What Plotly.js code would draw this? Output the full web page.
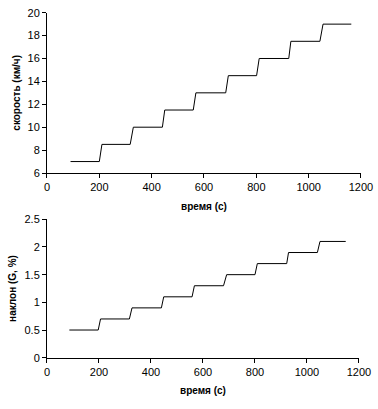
<!DOCTYPE html>
<html><head><meta charset="utf-8">
<script src="https://cdn.plot.ly/plotly-3.0.1.min.js"></script>
<style>html,body{margin:0;padding:0;background:#fff}#c{width:378px;height:409px}</style>
</head><body><div id="c"></div>
<script>
// Top chart: speed steps
const speedTime = [90,200,210,318,330,441,450,559,569,683,693,801,811,924,932,1043,1055,1163];
const speedVals = [7,7,8.5,8.5,10,10,11.5,11.5,13,13,14.5,14.5,16,16,17.5,17.5,19,19];
// Bottom chart: grade steps
const gradeTime = [86,197,206,317,327,440,449,558,567,679,691,800,809,922,929,1040,1050,1149];
const gradeVals = [0.5,0.5,0.7,0.7,0.9,0.9,1.1,1.1,1.3,1.3,1.5,1.5,1.7,1.7,1.9,1.9,2.1,2.1];
const xTitle = "время (с)";
const yTitleTop = "скорость (км/ч)";
const yTitleBottom = "наклон (G, %)";

const F = "Liberation Sans, Arial, sans-serif";
const axBase = {
  showgrid:false, zeroline:false, showline:true, linecolor:"#000", linewidth:1,
  ticks:"outside", ticklen:4, tickcolor:"#000", tickwidth:1,
  tickfont:{family:F, size:11, color:"#000"}
};
const data = [
  {x:speedTime, y:speedVals, xaxis:"x", yaxis:"y", mode:"lines", line:{color:"#000", width:1}, hoverinfo:"skip"},
  {x:gradeTime, y:gradeVals, xaxis:"x2", yaxis:"y2", mode:"lines", line:{color:"#000", width:1}, hoverinfo:"skip"}
];
const tf = {family:F, size:10, color:"#000", weight:"bold"};
const layout = {
  width:378, height:409, showlegend:false,
  margin:{l:0,r:0,t:0,b:0},
  paper_bgcolor:"#fff", plot_bgcolor:"#fff",
  xaxis:Object.assign({}, axBase, {domain:[0.1243,0.955], range:[0,1200], dtick:200, anchor:"y",
    title:{text:"<b>"+xTitle+"</b>", font:tf, standoff:10}}),
  yaxis:Object.assign({}, axBase, {domain:[0.577,0.969], range:[6,20], dtick:2, anchor:"x",
    title:{text:"<b>"+yTitleTop+"</b>", font:tf, standoff:5}}),
  xaxis2:Object.assign({}, axBase, {domain:[0.1243,0.9497], range:[0,1200], dtick:200, anchor:"y2",
    title:{text:"<b>"+xTitle+"</b>", font:tf, standoff:10}}),
  yaxis2:Object.assign({}, axBase, {domain:[0.1254,0.4638], range:[0,2.5], dtick:0.5, anchor:"x2",
    title:{text:"<b>"+yTitleBottom+"</b>", font:tf, standoff:5}})
};
Plotly.newPlot("c", data, layout, {staticPlot:true, displayModeBar:false});
</script></body></html>
